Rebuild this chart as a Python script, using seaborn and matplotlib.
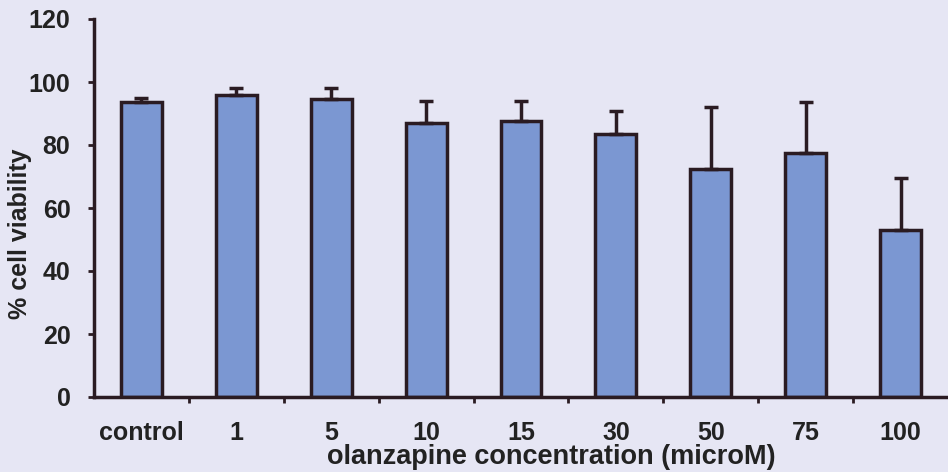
import numpy as np
import pandas as pd
import matplotlib
matplotlib.use("Agg")
import matplotlib.pyplot as plt
import seaborn as sns
from matplotlib.ticker import FixedLocator

# data
conc = ["control", "1", "5", "10", "15", "30", "50", "75", "100"]
viability = [93.5, 96, 94.5, 87, 87.5, 83.5, 72.5, 77.5, 53]
sd = [1.3, 2, 3.5, 7, 6.5, 7.3, 19.5, 16, 16.5]

df = pd.DataFrame({"conc": conc, "viability": viability, "sd": sd})

bg = "#e6e6f4"
bar_color = "#7b97d2"
edge = "#2a1b22"
txt = "#222222"

sns.set_style("white")
plt.rcParams["font.family"] = ["Liberation Sans", "DejaVu Sans"]
plt.rcParams["font.weight"] = "bold"

fig = plt.figure(figsize=(9.48, 4.72), dpi=100)
fig.patch.set_facecolor(bg)
ax = fig.add_axes([94 / 948, 1 - 397 / 472, 1 - 94 / 948, (397 - 19) / 472])
ax.set_facecolor(bg)

sns.barplot(data=df, x="conc", y="viability", color=bar_color, width=0.43,
            edgecolor=edge, linewidth=2.5, errorbar=None, saturation=1, ax=ax)

xs = np.arange(len(conc))
ax.errorbar(xs, df["viability"], yerr=[np.zeros(len(sd)), df["sd"]], fmt="none",
            ecolor=edge, elinewidth=2.5, capsize=5, capthick=2.5, zorder=1)

ax.set_ylim(0, 120)
ax.set_xlim(-0.5, len(conc) - 0.5)
ax.set_yticks([0, 20, 40, 60, 80, 100, 120])
ax.tick_params(axis="y", labelsize=18, length=4, width=2, color=edge, left=True, pad=13)
ax.tick_params(axis="x", which="major", labelsize=18, length=0, pad=17)
ax.xaxis.set_minor_locator(FixedLocator(xs[:-1] + 0.5))
ax.tick_params(axis="x", which="minor", length=4, width=2, color=edge, bottom=True)
for lab in ax.get_xticklabels() + ax.get_yticklabels():
    lab.set_fontweight("bold")
    lab.set_color(txt)

for s in ["top", "right"]:
    ax.spines[s].set_visible(False)
for s in ["left", "bottom"]:
    ax.spines[s].set_color(edge)
    ax.spines[s].set_linewidth(2.5)

ax.set_xlabel("olanzapine concentration (microM)", fontsize=19.5, fontweight="bold",
              color=txt, va="center")
ax.xaxis.set_label_coords((551 - 94) / 854, (397 - 457) / 378)
ax.set_ylabel("% cell viability", fontsize=18, fontweight="bold", color=txt,
              va="center")
ax.yaxis.set_label_coords((20 - 94) / 854, (397 - 234) / 378)

fig.savefig("out.png", dpi=100, facecolor=bg)
